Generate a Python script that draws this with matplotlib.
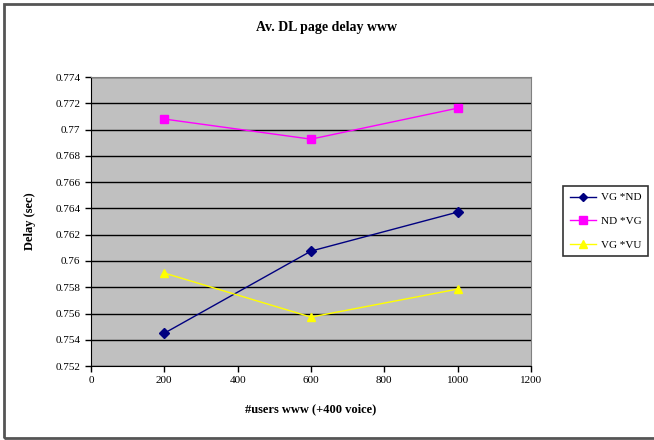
import matplotlib
matplotlib.use("Agg")
import matplotlib.pyplot as plt
from matplotlib.patches import Rectangle

# ── data ──
users = [200, 600, 1000]
vg_nd = [0.7545, 0.76075, 0.76372]
nd_vg = [0.7708, 0.76927, 0.77163]
vg_vu = [0.75908, 0.75573, 0.75786]
labels = ["VG *ND", "ND *VG", "VG *VU"]
y_ticks = [0.752, 0.754, 0.756, 0.758, 0.76, 0.762, 0.764, 0.766, 0.768, 0.77, 0.772, 0.774]
x_ticks = [0, 200, 400, 600, 800, 1000, 1200]

plt.rcParams["font.family"] = ["Liberation Serif", "DejaVu Serif"]

fig = plt.figure(figsize=(6.54, 4.40), dpi=100)
fig.patch.set_facecolor("white")
fig.patches.append(Rectangle((0.006, 0.005), 1.2, 0.985, transform=fig.transFigure,
                             fill=False, edgecolor="#555555", lw=2.0))

ax = fig.add_axes([0.139, 0.168, 0.673, 0.657])
ax.set_facecolor("#c0c0c0")

ax.plot(users, vg_nd, color="#000080", marker="D", ms=5, lw=1.0, label=labels[0])
ax.plot(users, nd_vg, color="#ff00ff", marker="s", ms=6, lw=1.0, label=labels[1])
ax.plot(users, vg_vu, color="#ffff00", marker="^", ms=6, lw=1.0, label=labels[2])

ax.set_xlim(0, 1200)
ax.set_ylim(0.752, 0.774)
ax.set_xticks(x_ticks)
ax.set_yticks(y_ticks)
ax.set_yticklabels([f"{v:g}" for v in y_ticks], fontsize=8)
ax.set_xticklabels([str(v) for v in x_ticks], fontsize=8)
ax.yaxis.grid(True, color="black", lw=1.0)
ax.set_axisbelow(True)
ax.tick_params(direction="out", length=4, width=1, color="black")

for s in ("left", "bottom"):
    ax.spines[s].set_color("black")
for s in ("top", "right"):
    ax.spines[s].set_color("#808080")

fig.text(0.5, 1 - 27 / 440, "Av. DL page delay www", fontsize=10, fontweight="bold",
         ha="center", va="center")
ax.set_xlabel("#users www (+400 voice)", fontsize=9, fontweight="bold", labelpad=13)
ax.set_ylabel("Delay (sec)", fontsize=9, fontweight="bold", labelpad=14)

leg = fig.legend(loc="upper left", bbox_to_anchor=(563 / 654, 1 - 186 / 440), fontsize=8,
                 frameon=True, fancybox=False, edgecolor="black", borderpad=0.6,
                 labelspacing=1.25, handlelength=2.4, handletextpad=0.4,
                 borderaxespad=0, markerscale=0.85)
leg.get_frame().set_linewidth(1.2)

fig.savefig("out.png", dpi=100)
